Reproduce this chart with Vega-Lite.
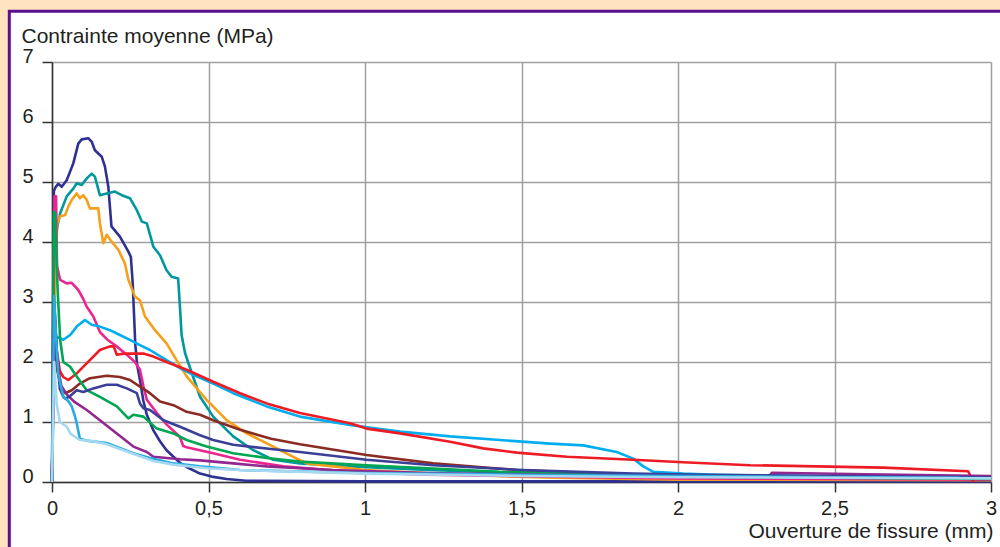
{
"$schema": "https://vega.github.io/schema/vega-lite/v6.json",
"width": 939, "height": 420,
"autosize": {"type": "none"},
"padding": {"left": 52, "top": 62, "right": 9, "bottom": 65},
"background": "white",
"config": {"view": {"stroke": null}, "font": "Liberation Sans"},
"datasets": {
"curves": [
{"s":"A","x":0,"y":0},{"s":"A","x":0.006,"y":4.85},{"s":"A","x":0.012,"y":4.92},{"s":"A","x":0.02,"y":4.97},{"s":"A","x":0.031,"y":4.92},{"s":"A","x":0.047,"y":5.03},{"s":"A","x":0.068,"y":5.31},{"s":"A","x":0.084,"y":5.64},{"s":"A","x":0.095,"y":5.71},{"s":"A","x":0.116,"y":5.73},{"s":"A","x":0.127,"y":5.67},{"s":"A","x":0.137,"y":5.53},{"s":"A","x":0.159,"y":5.42},{"s":"A","x":0.169,"y":5.26},{"s":"A","x":0.18,"y":4.92},{"s":"A","x":0.19,"y":4.26},{"s":"A","x":0.217,"y":4.09},{"s":"A","x":0.244,"y":3.84},{"s":"A","x":0.252,"y":3.75},{"s":"A","x":0.258,"y":3.3},{"s":"A","x":0.262,"y":2.8},{"s":"A","x":0.266,"y":2.3},{"s":"A","x":0.272,"y":1.95},{"s":"A","x":0.281,"y":1.7},{"s":"A","x":0.292,"y":1.35},{"s":"A","x":0.303,"y":1.12},{"s":"A","x":0.324,"y":0.86},{"s":"A","x":0.345,"y":0.68},{"s":"A","x":0.366,"y":0.53},{"s":"A","x":0.388,"y":0.42},{"s":"A","x":0.409,"y":0.32},{"s":"A","x":0.43,"y":0.25},{"s":"A","x":0.473,"y":0.14},{"s":"A","x":0.51,"y":0.09},{"s":"A","x":0.558,"y":0.05},{"s":"A","x":0.62,"y":0.02},{"s":"A","x":1.0,"y":0.01},{"s":"A","x":3.0,"y":0.01},
{"s":"B","x":0,"y":0},{"s":"B","x":0.005,"y":2.0},{"s":"B","x":0.01,"y":3.8},{"s":"B","x":0.015,"y":4.2},{"s":"B","x":0.026,"y":4.48},{"s":"B","x":0.047,"y":4.76},{"s":"B","x":0.068,"y":4.89},{"s":"B","x":0.079,"y":4.98},{"s":"B","x":0.095,"y":4.95},{"s":"B","x":0.111,"y":5.06},{"s":"B","x":0.127,"y":5.14},{"s":"B","x":0.137,"y":5.09},{"s":"B","x":0.153,"y":4.78},{"s":"B","x":0.175,"y":4.81},{"s":"B","x":0.201,"y":4.84},{"s":"B","x":0.223,"y":4.78},{"s":"B","x":0.249,"y":4.73},{"s":"B","x":0.271,"y":4.53},{"s":"B","x":0.287,"y":4.34},{"s":"B","x":0.303,"y":4.31},{"s":"B","x":0.324,"y":3.92},{"s":"B","x":0.345,"y":3.78},{"s":"B","x":0.366,"y":3.53},{"s":"B","x":0.382,"y":3.42},{"s":"B","x":0.403,"y":3.39},{"s":"B","x":0.409,"y":2.9},{"s":"B","x":0.414,"y":2.45},{"s":"B","x":0.425,"y":2.15},{"s":"B","x":0.441,"y":1.9},{"s":"B","x":0.473,"y":1.42},{"s":"B","x":0.515,"y":1.09},{"s":"B","x":0.579,"y":0.76},{"s":"B","x":0.643,"y":0.53},{"s":"B","x":0.707,"y":0.37},{"s":"B","x":0.792,"y":0.31},{"s":"B","x":0.952,"y":0.26},{"s":"B","x":1.2,"y":0.2},{"s":"B","x":1.5,"y":0.15},{"s":"B","x":2.0,"y":0.1},{"s":"B","x":2.5,"y":0.08},{"s":"B","x":3.0,"y":0.06},
{"s":"C","x":0,"y":0},{"s":"C","x":0.004,"y":1.5},{"s":"C","x":0.01,"y":3.5},{"s":"C","x":0.017,"y":4.31},{"s":"C","x":0.026,"y":4.43},{"s":"C","x":0.042,"y":4.45},{"s":"C","x":0.052,"y":4.59},{"s":"C","x":0.063,"y":4.7},{"s":"C","x":0.079,"y":4.81},{"s":"C","x":0.089,"y":4.73},{"s":"C","x":0.1,"y":4.78},{"s":"C","x":0.111,"y":4.7},{"s":"C","x":0.121,"y":4.56},{"s":"C","x":0.148,"y":4.56},{"s":"C","x":0.153,"y":4.31},{"s":"C","x":0.164,"y":3.98},{"s":"C","x":0.175,"y":4.12},{"s":"C","x":0.19,"y":4.01},{"s":"C","x":0.212,"y":3.87},{"s":"C","x":0.233,"y":3.64},{"s":"C","x":0.244,"y":3.37},{"s":"C","x":0.265,"y":3.09},{"s":"C","x":0.281,"y":3.03},{"s":"C","x":0.297,"y":2.76},{"s":"C","x":0.329,"y":2.53},{"s":"C","x":0.366,"y":2.31},{"s":"C","x":0.398,"y":2.03},{"s":"C","x":0.43,"y":1.76},{"s":"C","x":0.494,"y":1.37},{"s":"C","x":0.558,"y":1.03},{"s":"C","x":0.622,"y":0.81},{"s":"C","x":0.707,"y":0.59},{"s":"C","x":0.771,"y":0.42},{"s":"C","x":0.814,"y":0.31},{"s":"C","x":0.899,"y":0.26},{"s":"C","x":1.0,"y":0.2},{"s":"C","x":1.3,"y":0.12},{"s":"C","x":1.6,"y":0.07},{"s":"C","x":2.0,"y":0.04},{"s":"C","x":3.0,"y":0.03},
{"s":"D","x":0,"y":0},{"s":"D","x":0.008,"y":4.76},{"s":"D","x":0.013,"y":4.76},{"s":"D","x":0.016,"y":3.6},{"s":"D","x":0.026,"y":3.37},{"s":"D","x":0.047,"y":3.31},{"s":"D","x":0.063,"y":3.32},{"s":"D","x":0.084,"y":3.2},{"s":"D","x":0.1,"y":3.05},{"s":"D","x":0.111,"y":2.92},{"s":"D","x":0.132,"y":2.76},{"s":"D","x":0.153,"y":2.5},{"s":"D","x":0.175,"y":2.38},{"s":"D","x":0.207,"y":2.26},{"s":"D","x":0.239,"y":2.12},{"s":"D","x":0.265,"y":2.0},{"s":"D","x":0.281,"y":1.87},{"s":"D","x":0.292,"y":1.6},{"s":"D","x":0.303,"y":1.37},{"s":"D","x":0.335,"y":1.15},{"s":"D","x":0.366,"y":0.96},{"s":"D","x":0.409,"y":0.75},{"s":"D","x":0.419,"y":0.6},{"s":"D","x":0.43,"y":0.58},{"s":"D","x":0.515,"y":0.48},{"s":"D","x":0.601,"y":0.37},{"s":"D","x":0.739,"y":0.26},{"s":"D","x":0.952,"y":0.17},{"s":"D","x":1.2,"y":0.12},{"s":"D","x":1.6,"y":0.09},{"s":"D","x":2.0,"y":0.06},{"s":"D","x":3.0,"y":0.04},
{"s":"E","x":0,"y":0},{"s":"E","x":0.008,"y":2.3},{"s":"E","x":0.015,"y":2.42},{"s":"E","x":0.036,"y":2.37},{"s":"E","x":0.058,"y":2.45},{"s":"E","x":0.079,"y":2.59},{"s":"E","x":0.105,"y":2.7},{"s":"E","x":0.127,"y":2.62},{"s":"E","x":0.153,"y":2.59},{"s":"E","x":0.185,"y":2.53},{"s":"E","x":0.217,"y":2.45},{"s":"E","x":0.249,"y":2.37},{"s":"E","x":0.281,"y":2.28},{"s":"E","x":0.313,"y":2.2},{"s":"E","x":0.366,"y":2.03},{"s":"E","x":0.419,"y":1.87},{"s":"E","x":0.462,"y":1.76},{"s":"E","x":0.515,"y":1.64},{"s":"E","x":0.579,"y":1.48},{"s":"E","x":0.686,"y":1.26},{"s":"E","x":0.792,"y":1.09},{"s":"E","x":0.952,"y":0.95},{"s":"E","x":1.112,"y":0.84},{"s":"E","x":1.272,"y":0.76},{"s":"E","x":1.431,"y":0.7},{"s":"E","x":1.591,"y":0.64},{"s":"E","x":1.697,"y":0.61},{"s":"E","x":1.804,"y":0.5},{"s":"E","x":1.857,"y":0.39},{"s":"E","x":1.889,"y":0.26},{"s":"E","x":1.921,"y":0.17},{"s":"E","x":2.017,"y":0.14},{"s":"E","x":2.124,"y":0.12},{"s":"E","x":2.5,"y":0.09},{"s":"E","x":2.922,"y":0.07},
{"s":"F","x":0,"y":0},{"s":"F","x":0.008,"y":2.9},{"s":"F","x":0.015,"y":2.2},{"s":"F","x":0.025,"y":1.85},{"s":"F","x":0.036,"y":1.75},{"s":"F","x":0.052,"y":1.7},{"s":"F","x":0.079,"y":1.81},{"s":"F","x":0.121,"y":2.03},{"s":"F","x":0.153,"y":2.2},{"s":"F","x":0.185,"y":2.26},{"s":"F","x":0.197,"y":2.26},{"s":"F","x":0.207,"y":2.12},{"s":"F","x":0.23,"y":2.14},{"s":"F","x":0.26,"y":2.14},{"s":"F","x":0.292,"y":2.14},{"s":"F","x":0.324,"y":2.09},{"s":"F","x":0.366,"y":2.0},{"s":"F","x":0.43,"y":1.87},{"s":"F","x":0.515,"y":1.67},{"s":"F","x":0.601,"y":1.48},{"s":"F","x":0.686,"y":1.31},{"s":"F","x":0.792,"y":1.15},{"s":"F","x":0.952,"y":0.98},{"s":"F","x":1.005,"y":0.89},{"s":"F","x":1.112,"y":0.81},{"s":"F","x":1.272,"y":0.67},{"s":"F","x":1.378,"y":0.56},{"s":"F","x":1.485,"y":0.49},{"s":"F","x":1.645,"y":0.42},{"s":"F","x":1.857,"y":0.37},{"s":"F","x":2.016,"y":0.33},{"s":"F","x":2.23,"y":0.28},{"s":"F","x":2.443,"y":0.26},{"s":"F","x":2.656,"y":0.24},{"s":"F","x":2.927,"y":0.18},{"s":"F","x":2.938,"y":0.06},{"s":"F","x":2.945,"y":0.0},
{"s":"G","x":0,"y":0},{"s":"G","x":0.006,"y":2.6},{"s":"G","x":0.015,"y":1.9},{"s":"G","x":0.03,"y":1.55},{"s":"G","x":0.042,"y":1.48},{"s":"G","x":0.063,"y":1.53},{"s":"G","x":0.089,"y":1.64},{"s":"G","x":0.121,"y":1.73},{"s":"G","x":0.175,"y":1.77},{"s":"G","x":0.217,"y":1.75},{"s":"G","x":0.249,"y":1.7},{"s":"G","x":0.281,"y":1.59},{"s":"G","x":0.313,"y":1.48},{"s":"G","x":0.345,"y":1.34},{"s":"G","x":0.388,"y":1.28},{"s":"G","x":0.43,"y":1.17},{"s":"G","x":0.473,"y":1.12},{"s":"G","x":0.515,"y":1.03},{"s":"G","x":0.558,"y":0.95},{"s":"G","x":0.601,"y":0.87},{"s":"G","x":0.7,"y":0.72},{"s":"G","x":0.792,"y":0.63},{"s":"G","x":1.005,"y":0.45},{"s":"G","x":1.218,"y":0.31},{"s":"G","x":1.485,"y":0.2},{"s":"G","x":1.857,"y":0.12},{"s":"G","x":2.3,"y":0.08},{"s":"G","x":3.0,"y":0.05},
{"s":"H","x":0,"y":0},{"s":"H","x":0.006,"y":4.5},{"s":"H","x":0.01,"y":4.48},{"s":"H","x":0.018,"y":3.2},{"s":"H","x":0.026,"y":2.37},{"s":"H","x":0.036,"y":2.0},{"s":"H","x":0.058,"y":1.92},{"s":"H","x":0.079,"y":1.76},{"s":"H","x":0.111,"y":1.53},{"s":"H","x":0.153,"y":1.42},{"s":"H","x":0.207,"y":1.26},{"s":"H","x":0.244,"y":1.06},{"s":"H","x":0.26,"y":1.12},{"s":"H","x":0.292,"y":1.09},{"s":"H","x":0.335,"y":0.89},{"s":"H","x":0.388,"y":0.81},{"s":"H","x":0.43,"y":0.7},{"s":"H","x":0.494,"y":0.59},{"s":"H","x":0.579,"y":0.48},{"s":"H","x":0.686,"y":0.4},{"s":"H","x":0.792,"y":0.34},{"s":"H","x":1.005,"y":0.28},{"s":"H","x":1.431,"y":0.17},{"s":"H","x":1.857,"y":0.12},{"s":"H","x":2.07,"y":0.09},{"s":"H","x":2.5,"y":0.07},{"s":"H","x":3.0,"y":0.05},
{"s":"I","x":0,"y":0},{"s":"I","x":0.006,"y":2.5},{"s":"I","x":0.015,"y":2.0},{"s":"I","x":0.03,"y":1.6},{"s":"I","x":0.047,"y":1.46},{"s":"I","x":0.073,"y":1.33},{"s":"I","x":0.111,"y":1.2},{"s":"I","x":0.153,"y":1.03},{"s":"I","x":0.207,"y":0.81},{"s":"I","x":0.26,"y":0.59},{"s":"I","x":0.303,"y":0.5},{"s":"I","x":0.324,"y":0.42},{"s":"I","x":0.409,"y":0.38},{"s":"I","x":0.473,"y":0.36},{"s":"I","x":0.579,"y":0.31},{"s":"I","x":0.686,"y":0.26},{"s":"I","x":0.899,"y":0.2},{"s":"I","x":1.2,"y":0.15},{"s":"I","x":1.6,"y":0.12},{"s":"I","x":2.0,"y":0.1},{"s":"I","x":2.29,"y":0.09},{"s":"I","x":2.3,"y":0.155},{"s":"I","x":2.6,"y":0.13},{"s":"I","x":3.0,"y":0.1},
{"s":"J","x":0,"y":0},{"s":"J","x":0.007,"y":3.0},{"s":"J","x":0.015,"y":2.2},{"s":"J","x":0.025,"y":1.55},{"s":"J","x":0.036,"y":1.42},{"s":"J","x":0.042,"y":1.39},{"s":"J","x":0.055,"y":1.42},{"s":"J","x":0.079,"y":1.53},{"s":"J","x":0.1,"y":1.5},{"s":"J","x":0.132,"y":1.56},{"s":"J","x":0.175,"y":1.62},{"s":"J","x":0.207,"y":1.62},{"s":"J","x":0.239,"y":1.56},{"s":"J","x":0.271,"y":1.48},{"s":"J","x":0.281,"y":1.31},{"s":"J","x":0.292,"y":1.23},{"s":"J","x":0.313,"y":1.2},{"s":"J","x":0.356,"y":1.03},{"s":"J","x":0.409,"y":0.92},{"s":"J","x":0.473,"y":0.78},{"s":"J","x":0.515,"y":0.7},{"s":"J","x":0.579,"y":0.62},{"s":"J","x":0.7,"y":0.55},{"s":"J","x":0.792,"y":0.5},{"s":"J","x":1.005,"y":0.37},{"s":"J","x":1.218,"y":0.28},{"s":"J","x":1.505,"y":0.2},{"s":"J","x":1.857,"y":0.14},{"s":"J","x":2.07,"y":0.12},{"s":"J","x":2.5,"y":0.1},{"s":"J","x":3.0,"y":0.08},
{"s":"K","x":0,"y":0},{"s":"K","x":0.007,"y":3.1},{"s":"K","x":0.012,"y":2.5},{"s":"K","x":0.02,"y":1.8},{"s":"K","x":0.036,"y":1.42},{"s":"K","x":0.052,"y":1.35},{"s":"K","x":0.063,"y":1.26},{"s":"K","x":0.073,"y":1.1},{"s":"K","x":0.079,"y":0.98},{"s":"K","x":0.089,"y":0.72},{"s":"K","x":0.11,"y":0.69},{"s":"K","x":0.175,"y":0.65},{"s":"K","x":0.26,"y":0.48},{"s":"K","x":0.313,"y":0.4},{"s":"K","x":0.388,"y":0.31},{"s":"K","x":0.473,"y":0.26},{"s":"K","x":0.601,"y":0.2},{"s":"K","x":1.0,"y":0.15},{"s":"K","x":1.5,"y":0.12},{"s":"K","x":2.0,"y":0.1},{"s":"K","x":2.5,"y":0.08},{"s":"K","x":2.9,"y":0.07},
{"s":"L","x":0,"y":0},{"s":"L","x":0.007,"y":2.0},{"s":"L","x":0.015,"y":1.3},{"s":"L","x":0.025,"y":1.0},{"s":"L","x":0.047,"y":0.92},{"s":"L","x":0.06,"y":0.8},{"s":"L","x":0.089,"y":0.7},{"s":"L","x":0.132,"y":0.68},{"s":"L","x":0.175,"y":0.63},{"s":"L","x":0.228,"y":0.53},{"s":"L","x":0.281,"y":0.43},{"s":"L","x":0.324,"y":0.35},{"s":"L","x":0.388,"y":0.29},{"s":"L","x":0.494,"y":0.23},{"s":"L","x":0.601,"y":0.2},{"s":"L","x":1.0,"y":0.14},{"s":"L","x":1.5,"y":0.1},{"s":"L","x":2.0,"y":0.08},{"s":"L","x":3.0,"y":0.06}
]
},
"layer": [
{
"data": {"name": "curves"},
"mark": {"type": "line", "strokeWidth": 2.6, "strokeJoin": "round"},
"encoding": {
"x": {"field": "x", "type": "quantitative", "scale": {"domain": [0, 3], "nice": false, "zero": false},
"axis": {"values": [0, 0.5, 1, 1.5, 2, 2.5, 3], "format": "~g", "labelExpr": "replace(datum.label, '.', ',')",
"title": "Ouverture de fissure (mm)", "titleAnchor": "end", "titleAlign": "right", "titleBaseline": "alphabetic", "titleX": 941, "titleY": 55,
"titleFontSize": 21, "titleFontWeight": "normal", "titleColor": "#231F20",
"labelFontSize": 20, "labelColor": "#231F20", "labelPadding": 6, "labelFlush": false, "labelOverlap": false,
"domainColor": "#333333", "domainWidth": 1.5, "ticks": true, "tickColor": "#333333", "tickWidth": 1.5, "tickSize": 10,
"grid": true, "gridColor": "#A0A0A0", "gridWidth": 1.5}},
"y": {"field": "y", "type": "quantitative", "scale": {"domain": [0, 7], "nice": false, "zero": false},
"axis": {"values": [0, 1, 2, 3, 4, 5, 6, 7], "format": "~g",
"title": "Contrainte moyenne (MPa)", "titleAngle": 0, "titleAlign": "left", "titleBaseline": "alphabetic", "titleX": -31, "titleY": -20,
"titleFontSize": 21, "titleFontWeight": "normal", "titleColor": "#231F20",
"labelFontSize": 20, "labelColor": "#231F20", "labelPadding": 9, "labelBaseline": "alphabetic", "labelFlush": false, "labelOverlap": false,
"domainColor": "#333333", "domainWidth": 1.5, "ticks": true, "tickColor": "#333333", "tickWidth": 1.5, "tickSize": 10,
"grid": true, "gridColor": "#A0A0A0", "gridWidth": 1.5}},
"color": {"field": "s", "type": "nominal", "legend": null,
"scale": {"domain": ["A","B","C","D","E","F","G","H","I","J","K","L"],
"range": ["#2E3192","#00979D","#F6A01A","#EC268F","#00AEEF","#ED1C24","#8B2B24","#00A651","#92278F","#3A3F98","#29ABE2","#A6D8F0"]}}
}
},
{
"data": {"values": [{}]},
"mark": {"type": "rect", "fill": "#FEE3BE"},
"encoding": {
"x": {"datum": -0.3, "type": "quantitative"},
"x2": {"datum": 3.2},
"y": {"datum": 7.845, "type": "quantitative"},
"y2": {"datum": 9}
}
},
{
"data": {"values": [{}]},
"mark": {"type": "rect", "fill": "#FEE3BE"},
"encoding": {
"x": {"datum": -0.3, "type": "quantitative"},
"x2": {"datum": -0.1364},
"y": {"datum": -1.5, "type": "quantitative"},
"y2": {"datum": 9}
}
},
{
"data": {"values": [{}]},
"mark": {"type": "rect", "fillOpacity": 0, "stroke": "#5B0F8E", "strokeWidth": 3},
"encoding": {
"x": {"datum": -0.1364, "type": "quantitative"},
"x2": {"datum": 3.2},
"y": {"datum": -1.5, "type": "quantitative"},
"y2": {"datum": 7.845}
}
}
]
}
